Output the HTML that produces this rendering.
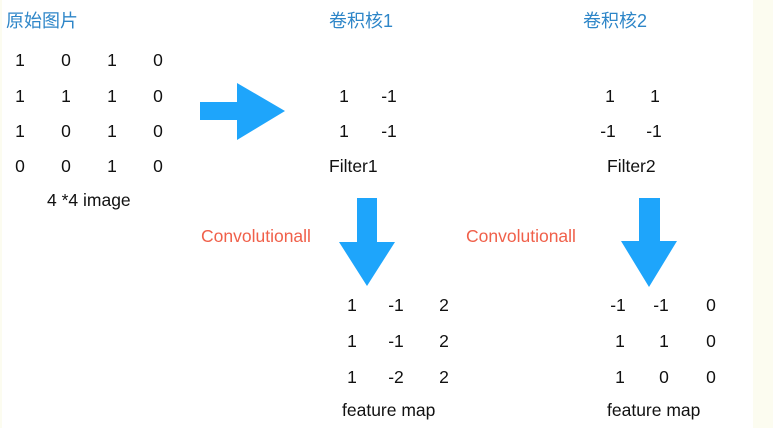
<!DOCTYPE html>
<html><head><meta charset="utf-8"><style>
html,body{margin:0;padding:0;background:#fff;}
svg{display:block;}
text{font-family:"Liberation Sans","Noto Sans CJK SC",sans-serif;font-size:17.5px;fill:#111;}
.t{fill:#2e86c8;font-size:18px;}
.r{fill:#f0604a;}
</style></head><body>
<svg width="773" height="428" viewBox="0 0 773 428" xmlns="http://www.w3.org/2000/svg">
<rect x="0" y="0" width="773" height="428" fill="#fff"/>
<rect x="0" y="0" width="2" height="428" fill="#fcfcf0"/>
<rect x="753" y="0" width="20" height="428" fill="#fcfcf0"/>
<g fill="#1ea5fb">
<polygon points="200,102 237,102 237,83 285,111 237,140 237,120 200,120"/>
<polygon points="357,198 377,198 377,242 395,242 367,286 339,242 357,242"/>
<polygon points="639,198 660,198 660,241 677,241 649,287 621,241 639,241"/>
</g>
<text class="t" x="6" y="27">原始图片</text>
<text class="t" x="329" y="27">卷积核1</text>
<text class="t" x="583" y="27">卷积核2</text>
<g text-anchor="middle">
<text x="20" y="66">1</text><text x="66" y="66">0</text><text x="112" y="66">1</text><text x="158" y="66">0</text>
<text x="20" y="102">1</text><text x="66" y="102">1</text><text x="112" y="102">1</text><text x="158" y="102">0</text>
<text x="20" y="137">1</text><text x="66" y="137">0</text><text x="112" y="137">1</text><text x="158" y="137">0</text>
<text x="20" y="172">0</text><text x="66" y="172">0</text><text x="112" y="172">1</text><text x="158" y="172">0</text>
<text x="344" y="102">1</text><text x="389" y="102">-1</text>
<text x="344" y="137">1</text><text x="389" y="137">-1</text>
<text x="610" y="102">1</text><text x="655" y="102">1</text>
<text x="608" y="137">-1</text><text x="654" y="137">-1</text>
<text x="352" y="311">1</text><text x="396" y="311">-1</text><text x="444" y="311">2</text>
<text x="352" y="347">1</text><text x="396" y="347">-1</text><text x="444" y="347">2</text>
<text x="352" y="383">1</text><text x="396" y="383">-2</text><text x="444" y="383">2</text>
<text x="618" y="311">-1</text><text x="661" y="311">-1</text><text x="711" y="311">0</text>
<text x="620" y="347">1</text><text x="664" y="347">1</text><text x="711" y="347">0</text>
<text x="620" y="383">1</text><text x="664" y="383">0</text><text x="711" y="383">0</text>
</g>
<text x="47" y="206">4 *4 image</text>
<text x="329" y="172">Filter1</text>
<text x="607" y="172">Filter2</text>
<text class="r" x="201" y="242">Convolutionall</text>
<text class="r" x="466" y="242">Convolutionall</text>
<text x="342" y="416">feature map</text>
<text x="607" y="416">feature map</text>
</svg>
</body></html>
